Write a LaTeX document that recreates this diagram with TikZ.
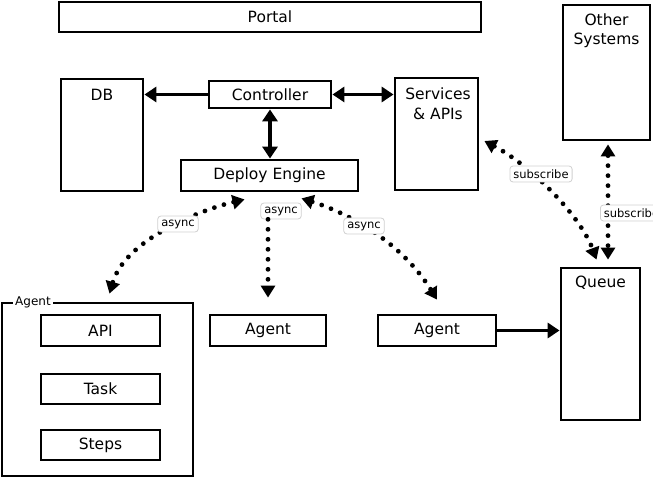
\documentclass[tikz,border=0pt]{standalone}
\usepackage{fontspec}
\setmainfont{DejaVu Sans}
\usetikzlibrary{arrows.meta,calc}
\begin{document}
\begin{tikzpicture}[x=1pt,y=-1pt,
  box/.style={draw,line width=2.8pt,inner sep=0pt,fill=white},
  txt/.style={font=\fontsize{15.5}{17}\selectfont,inner sep=0pt},
  lbl/.style={draw=black!18,line width=0.8pt,rounded corners=3pt,fill=white,
    font=\fontsize{11.5}{13}\selectfont,inner sep=3.5pt},
  arr/.style={line width=3.6pt,-{Triangle[length=12pt,width=15pt]}},
  darr/.style={line width=3.6pt,{Triangle[length=12pt,width=15pt]}-{Triangle[length=12pt,width=15pt]}},
  dotl/.style={line width=4.8pt,line cap=round,dash pattern=on 0pt off 10pt},
  dtip/.style={-{Triangle[length=12pt,width=14pt]}},
  ddtip/.style={{Triangle[length=12pt,width=14pt]}-{Triangle[length=12pt,width=14pt]}}
]
\useasboundingbox (0,0) rectangle (653,478);

% boxes
\node[box,minimum width=422pt,minimum height=30pt] (portal) at (270,17) {};
\node[txt] (portalt) at (portal) {Portal};
\node[box,minimum width=87pt,minimum height=135pt] (other) at (606.5,72.5) {};
\node[txt,align=center] (othert) at (606.5,31) {Other\\[2pt]Systems};
\node[box,minimum width=82pt,minimum height=112pt] (db) at (102,135) {};
\node[txt] (dbt) at (102,95) {DB};
\node[box,minimum width=122pt,minimum height=27pt] (ctrl) at (270,94.5) {};
\node[txt] (ctrlt) at (ctrl) {Controller};
\node[box,minimum width=83pt,minimum height=112pt] (svc) at (436.5,134) {};
\node[txt,align=center] (svct) at (438,104) {Services\\[3pt]\& APIs};
\node[box,minimum width=177pt,minimum height=31pt] (deploy) at (269.5,175.5) {};
\node[txt] (deployt) at (deploy) {Deploy Engine};
\node[box,minimum width=79pt,minimum height=152pt] (queue) at (600.5,344) {};
\node[txt] (queuet) at (600.5,283) {Queue};

\node[box,minimum width=191pt,minimum height=173pt] (group) at (97.5,389.5) {};
\node[fill=white,inner sep=2pt,font=\fontsize{12}{13}\selectfont] (groupt) at (33,302) {Agent};
\node[box,minimum width=119pt,minimum height=31pt] (api) at (100.5,330.5) {};
\node[txt] (apit) at (api) {API};
\node[box,minimum width=119pt,minimum height=30pt] (task) at (100.5,389) {};
\node[txt] (taskt) at (task) {Task};
\node[box,minimum width=119pt,minimum height=30pt] (steps) at (100.5,445) {};
\node[txt] (stepst) at (steps) {Steps};
\node[box,minimum width=116pt,minimum height=31pt] (agent2) at (268,330.5) {};
\node[txt] (agent2t) at (agent2) {Agent};
\node[box,minimum width=118pt,minimum height=31pt] (agent3) at (437,330.5) {};
\node[txt] (agent3t) at (agent3) {Agent};

% solid arrows
\draw[arr] (ctrl.west) -- (db.east |- ctrl.west);
\draw[darr] (ctrl.east) -- (svc.west |- ctrl.east);
\draw[darr] (ctrl.south) -- (deploy.north -| ctrl.south);
\draw[arr] (agent3.east) -- (queue.west |- agent3.east);

% dotted async connectors
\draw[dotl,ddtip] ([shift={(-25,7)}]deploy.south) .. controls (200,210) and (125,240) .. ([shift={(12,-8)}]group.north);
\node[lbl] (as1) at (178,224) {async};

\node[lbl] (as2) at (281,211) {async};
\draw[dotl,dtip] ([xshift=-13pt]as2.south) -- ([yshift=16pt]agent2.north);

\draw[dotl,ddtip] ([shift={(32,6)}]deploy.south) .. controls (345,212) and (400,240) .. ([shift={(0,-14)}]agent3.north);
\node[lbl] (as3) at (364,226) {async};

% subscribe connectors
\draw[dotl,ddtip] ([shift={(5,7)}]svc.east) .. controls (530,165) and (580,215) .. ([shift={(-4,-7)}]queue.north);
\node[lbl] (sub1) at (541,174) {subscribe};
\draw[dotl,ddtip] ([shift={(1.5,3)}]other.south) -- ([shift={(7.5,-7)}]queue.north);
\node[lbl,anchor=west] (sub2) at (600,213) {subscribe};
\end{tikzpicture}
\end{document}
